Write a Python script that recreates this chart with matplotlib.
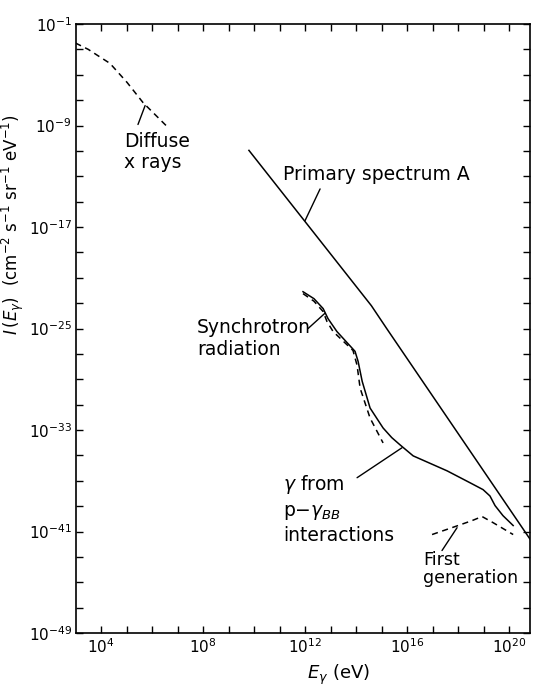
import numpy as np
import matplotlib.pyplot as plt
from matplotlib.ticker import FixedLocator, NullFormatter

# all values are log10(E / eV) and log10(I)
xray_logE = [3.0, 3.5, 3.96, 4.35, 5.02, 5.65, 6.6]
xray_logI = [-2.5, -3.0, -3.6, -4.1, -5.6, -7.2, -9.1]

primary_logE = [9.8, 14.6, 15.2, 20.82]
primary_logI = [-10.96, -23.2, -25.0, -41.6]

synch_logE = [11.92, 12.35, 12.71, 12.90, 13.25, 13.96, 14.08, 14.24, 14.55, 15.06, 15.4, 15.73,
              16.24, 17.57, 18.47, 18.98, 19.25, 19.45, 19.76, 20.16]
synch_logI = [-22.10, -22.65, -23.43, -24.22, -25.24, -26.80, -27.59, -29.16, -31.27, -32.84,
              -33.6, -34.18, -35.04, -36.22, -37.16, -37.7, -38.2, -38.96, -39.75, -40.53]

synch_dash_logE = [11.92, 12.35, 12.71, 12.86, 13.10, 13.88, 14.04, 14.16, 14.55, 15.06]
synch_dash_logI = [-22.25, -22.85, -23.67, -24.45, -25.24, -26.73, -27.90, -29.71, -32.06, -34.02]

first_logE = [16.98, 18.0, 18.55, 18.94, 19.37, 20.16]
first_logI = [-41.24, -40.53, -40.14, -39.82, -40.3, -41.24]

xticks = [4, 8, 12, 16, 20]
yticks = [-1, -9, -17, -25, -33, -41, -49]

def p(v):
    return 10.0 ** np.array(v)

fig = plt.figure(figsize=(5.34, 6.89), dpi=100)
ax = fig.add_axes([76/534, 1 - 633/689, 454/534, 609/689])
ax.set_xscale('log')
ax.set_yscale('log')

lw = 1.1
ax.plot(p(xray_logE), p(xray_logI), 'k', lw=lw, dashes=(4, 3))
ax.plot(p(primary_logE), p(primary_logI), 'k', lw=lw)
ax.plot(p(synch_logE), p(synch_logI), 'k', lw=lw)
ax.plot(p(synch_dash_logE), p(synch_dash_logI), 'k', lw=lw, dashes=(4, 3))
ax.plot(p(first_logE), p(first_logI), 'k', lw=lw, dashes=(4, 3))

ax.set_xlim(10**3.02, 10**20.82)
ax.set_ylim(1e-49, 1e-1)

ax.xaxis.set_major_locator(FixedLocator(p(xticks)))
ax.xaxis.set_minor_locator(FixedLocator(p(range(3, 21))))
ax.yaxis.set_major_locator(FixedLocator(p(yticks)))
ax.yaxis.set_minor_locator(FixedLocator(p(range(-49, 0, 2))))
ax.xaxis.set_minor_formatter(NullFormatter())
ax.yaxis.set_minor_formatter(NullFormatter())
ax.set_xticklabels(['$10^{%d}$' % t for t in xticks])
ax.set_yticklabels(['$10^{%d}$' % t for t in yticks])
ax.tick_params(which='both', direction='in', top=True, right=True, length=5, width=1)
ax.tick_params(labelsize=11, pad=3)
for s in ax.spines.values():
    s.set_linewidth(1.2)

fs = 13.5
line = dict(arrowstyle='-', color='k', lw=1.0, shrinkA=0, shrinkB=0)
ax.annotate('', xy=p([5.73, -7.43]), xytext=p([5.45, -8.92]), arrowprops=line)
ax.text(*p([4.9, -9.5]), 'Diffuse\nx rays', fontsize=fs, va='top', ha='left',
        linespacing=1.15)

ax.annotate('', xy=p([12.0, -16.5]), xytext=p([12.59, -14.0]), arrowprops=line)
ax.text(*p([11.14, -12.84]), 'Primary spectrum A', fontsize=fs, va='center', ha='left')

ax.annotate('', xy=p([12.78, -23.8]), xytext=p([12.12, -25.0]), arrowprops=line)
ax.text(*p([7.76, -24.2]), 'Synchrotron\nradiation', fontsize=fs, va='top', ha='left',
        linespacing=1.15)

ax.annotate('', xy=p([15.8, -34.4]), xytext=p([14.04, -36.76]), arrowprops=line)
ax.text(*p([11.14, -36.4]), '$\\gamma$ from\np$-\\gamma_{BB}$\ninteractions', fontsize=fs,
        va='top', ha='left', linespacing=1.3)

ax.annotate('', xy=p([17.96, -40.7]), xytext=p([17.37, -42.5]), arrowprops=line)
ax.text(*p([16.63, -42.5]), 'First\ngeneration', fontsize=12.5, va='top', ha='left',
        linespacing=1.0)

fig.text(13/534, 1 - 225/689,
         '$I\\,(E_\\gamma)$  (cm$^{-2}$ s$^{-1}$ sr$^{-1}$ eV$^{-1}$)',
         rotation=90, fontsize=12, ha='center', va='center')
fig.text(338/534, 1 - 675/689, '$E_\\gamma$ (eV)', fontsize=13, ha='center', va='center')

fig.savefig('out.png', dpi=100)
